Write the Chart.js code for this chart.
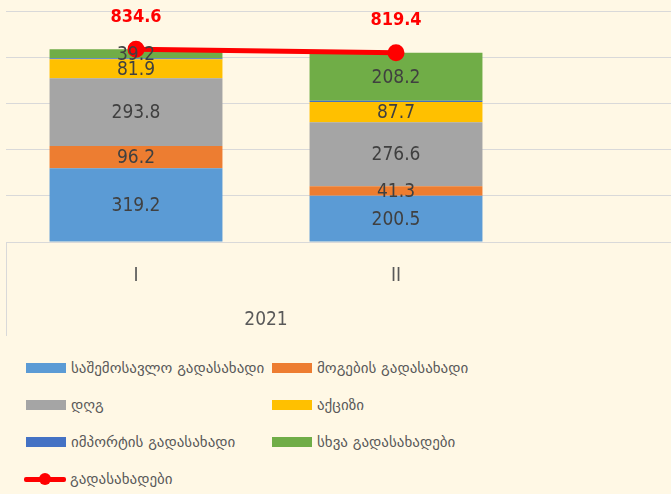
<!DOCTYPE html>
<html>
<head>
<meta charset="utf-8">
<script src="https://cdn.jsdelivr.net/npm/chart.js@4"></script>
<style>
html, body { margin: 0; padding: 0; background: #fff8e5; width: 671px; height: 494px; overflow: hidden; }
#wrap { position: relative; width: 671px; height: 494px; overflow: hidden; }
#chart { position: absolute; left: -5px; top: 0; }
#legend { position: absolute; left: 26px; top: 349px; display: grid; grid-template-columns: 246px 320px; grid-auto-rows: 37px;
  font-family: "DejaVu Sans", sans-serif; font-size: 15px; color: #595959; }
.item { display: flex; align-items: center; white-space: nowrap; }
.sw { display: inline-block; width: 40px; height: 10px; margin-right: 5px; }
.ln { position: relative; display: inline-block; width: 42px; height: 12px; margin-right: 4px; margin-left: -2px; }
.ln i { position: absolute; left: 0; right: 0; top: 4px; height: 5px; background: #ff0000; border-radius: 2px; }
.ln b { position: absolute; left: 15px; top: 0; width: 12px; height: 12px; border-radius: 50%; background: #ff0000; }
</style>
</head>
<body>
<div id="wrap">
  <canvas id="chart" width="802" height="340"></canvas>
  <div id="legend"></div>
</div>
<script>
const categories = ['I', 'II'];
const yearLabel = '2021';
const incomeTax = [319.2, 200.5];
const profitTax = [96.2, 41.3];
const vat = [293.8, 276.6];
const excise = [81.9, 87.7];
const importTax = [4.3, 5.1];
const otherTaxes = [39.2, 208.2];
const totalTaxes = [834.6, 819.4];

const numFont = '"Liberation Sans Narrow", "DejaVu Sans Condensed", sans-serif';

// one empty slot on the right, it only keeps the category width, the rest is cut off by the window
const pad = (arr) => [...arr, null];

const barSet = (label, data, color, showLabel) => ({
    type: 'bar',
    label: label,
    data: pad(data),
    backgroundColor: color,
    categoryPercentage: 0.665,
    barPercentage: 1,
    order: 1,
    showLabel: showLabel,
});

const datasets = [
    barSet('საშემოსავლო გადასახადი', incomeTax, '#5b9bd5', true),
    barSet('მოგების გადასახადი', profitTax, '#ed7d31', true),
    barSet('დღგ', vat, '#a5a5a5', true),
    barSet('აქციზი', excise, '#ffc000', true),
    barSet('იმპორტის გადასახადი', importTax, '#4472c4', false),
    barSet('სხვა გადასახადები', otherTaxes, '#70ad47', true),
    {
        type: 'line',
        label: 'გადასახადები',
        data: pad(totalTaxes),
        borderColor: '#ff0000',
        backgroundColor: '#ff0000',
        borderWidth: 5,
        pointRadius: 6,
        pointHoverRadius: 6,
        order: 0,
    },
];

const labelPlugin = {
    id: 'labels',
    afterDatasetsDraw(chart) {
        const ctx = chart.ctx;
        ctx.save();
        ctx.textAlign = 'center';
        ctx.textBaseline = 'middle';
        chart.data.datasets.forEach((ds, i) => {
            const meta = chart.getDatasetMeta(i);
            meta.data.forEach((el, j) => {
                const v = ds.data[j];
                if (v == null) return;
                if (ds.type === 'line') {
                    ctx.fillStyle = '#ff0000';
                    ctx.font = 'bold 18px ' + numFont;
                    ctx.fillText(v.toFixed(1), el.x, el.y - 32);
                } else if (ds.showLabel) {
                    ctx.fillStyle = '#404040';
                    ctx.font = '19px ' + numFont;
                    ctx.fillText(v.toFixed(1), el.x, (el.y + el.base) / 2 + 1);
                }
            });
        });
        ctx.restore();
    },
    afterDraw(chart) {
        const ctx = chart.ctx;
        const x = chart.scales.x;
        const area = chart.chartArea;
        ctx.save();
        ctx.strokeStyle = '#d9d9d9';
        ctx.lineWidth = 1;
        ctx.beginPath();
        ctx.moveTo(area.left + 0.5, area.bottom);
        ctx.lineTo(area.left + 0.5, area.bottom + 94);
        ctx.stroke();
        ctx.fillStyle = '#595959';
        ctx.font = '19px ' + numFont;
        ctx.textAlign = 'center';
        ctx.textBaseline = 'middle';
        const mid = (x.getPixelForValue(0) + x.getPixelForValue(categories.length - 1)) / 2;
        ctx.fillText(yearLabel, mid, area.bottom + 78);
        ctx.restore();
    }
};

const chart = new Chart(document.getElementById('chart'), {
    data: {
        labels: [...categories, ''],
        datasets: datasets,
    },
    options: {
        responsive: false,
        animation: false,
        devicePixelRatio: 1,
        layout: { padding: { left: 1, top: 11, right: 0, bottom: 0 } },
        scales: {
            x: {
                stacked: true,
                grid: { display: false },
                border: { display: true, color: '#d9d9d9' },
                ticks: { color: '#595959', font: { size: 19, family: numFont }, padding: 15 },
                afterFit: (scale) => { scale.height = 98; },
            },
            y: {
                stacked: true,
                min: 0,
                max: 1000,
                ticks: { display: false, stepSize: 200 },
                grid: { color: '#d9d9d9', drawTicks: false },
                border: { display: false },
                afterFit: (scale) => { scale.width = 0; },
            },
        },
        plugins: {
            legend: { display: false },
            tooltip: { enabled: false },
        },
    },
    plugins: [labelPlugin],
});

// legend in two columns, the way the picture has it
const legend = document.getElementById('legend');
chart.data.datasets.forEach((ds) => {
    const item = document.createElement('div');
    item.className = 'item';
    if (ds.type === 'line') {
        item.innerHTML = '<span class="ln"><i></i><b></b></span>';
    } else {
        item.innerHTML = '<span class="sw" style="background:' + ds.backgroundColor + '"></span>';
    }
    item.appendChild(document.createTextNode(ds.label));
    legend.appendChild(item);
});
</script>
</body>
</html>
